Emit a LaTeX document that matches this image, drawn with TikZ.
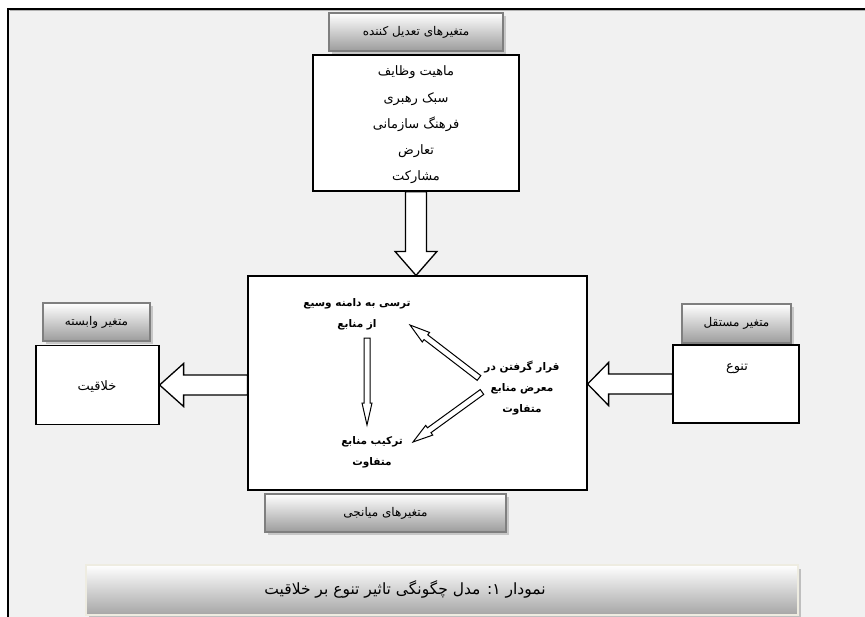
\documentclass[tikz,border=0pt]{standalone}
\usepackage{fontspec}
\usetikzlibrary{calc,shadows}
\newfontfamily\arabicfont[Script=Arabic]{DejaVu Sans}
\TeXXeTstate=1
\definecolor{bgc}{HTML}{F1F1F1}
\definecolor{lblborder}{HTML}{7F7F7F}
\definecolor{lblbottom}{HTML}{9C9C9C}
\definecolor{capborder}{HTML}{EEECE1}
\newcommand\rtl[1]{\beginR #1\endR}
% #1 style, #2 from, #3 to, #4 shaft half width, #5 head half width, #6 head length
\newcommand\hollowarrow[6]{%
  \draw[#1] let \p1=($(#3)-(#2)$), \n1={atan2(\y1,\x1)}, \n2={veclen(\x1,\y1)} in
    [shift={(#2)}, rotate=\n1]
    (0,-#4) -- (\n2-#6,-#4) -- (\n2-#6,-#5) -- (\n2,0) -- (\n2-#6,#5) -- (\n2-#6,#4) -- (0,#4) -- cycle;}
\begin{document}
\begin{tikzpicture}[x=1pt,y=-1pt,
  lbl/.style={draw=lblborder, line width=1.6pt, top color=white, bottom color=lblbottom,
    inner sep=0pt, drop shadow={shadow xshift=3pt, shadow yshift=-3pt, fill=black!22, opacity=1},
    font=\arabicfont\fontsize{12}{14}\selectfont},
  box/.style={draw=black, line width=1.2pt, fill=white, inner sep=0pt},
  txt/.style={font=\arabicfont\fontsize{13}{26.3}\selectfont, align=center, inner sep=0pt},
  btxt/.style={font=\arabicfont\bfseries\fontsize{10.5}{21}\selectfont, align=center, inner sep=0pt},
  bigarrow/.style={draw=black, line width=1.3pt, fill=white, line join=miter},
  thinarrow/.style={draw=black, line width=1pt, fill=white, line join=miter}]
\useasboundingbox (0,0) rectangle (865,616);
\clip (0,0) rectangle (865,616);
% frame
\fill[white] (0,0) rectangle (865,616);
\filldraw[fill=bgc, draw=black, line width=1.6pt] (8,9) rectangle (900,650);
\draw[gray!60, line width=0.8pt] (9.6,10.6) -- (900,10.6);
% moderator
\node[lbl, minimum width=174pt, minimum height=38pt] (modlabel) at (416,32) {\rtl{متغیرهای تعدیل کننده}};
\node[box, minimum width=206pt, minimum height=136pt] (modbox) at (416,123) {};
\node[txt] (modtxt) at (416,125) {\rtl{ماهیت وظایف}\\\rtl{سبک رهبری}\\\rtl{فرهنگ سازمانی}\\\rtl{تعارض}\\\rtl{مشارکت}};
% central
\node[box, minimum width=339pt, minimum height=214pt] (mid) at (417.5,383) {};
\node[lbl, minimum width=241pt, minimum height=38pt] (medlabel) at (385.5,513) {\rtl{متغیرهای میانجی}};
% dependent
\node[lbl, minimum width=107pt, minimum height=38pt] (deplabel) at (96.5,322) {\rtl{متغیر وابسته}};
\node[box, minimum width=123pt, minimum height=79pt] (depbox) at (97.5,385) {};
\node[txt] (deptxt) at (97,387) {\rtl{خلاقیت}};
% independent
\node[lbl, minimum width=109pt, minimum height=39pt] (indlabel) at (736.5,323.5) {\rtl{متغیر مستقل}};
\node[box, minimum width=126pt, minimum height=78pt] (indbox) at (736,384) {};
\node[txt] (indtxt) at (737,369) {\rtl{تنوع}};
% block arrows
\hollowarrow{bigarrow}{modbox.south}{modbox.south |- mid.north}{10.5}{21}{24}
\coordinate (lstart) at (depbox.east -| mid.west);
\hollowarrow{bigarrow}{lstart}{depbox.east}{10}{21.5}{24}
\coordinate (rend) at (indbox.west -| mid.east);
\hollowarrow{bigarrow}{indbox.west}{rend}{10}{21.5}{21}
% inner texts
\node[btxt] (t1) at (357,314) {\rtl{ترسی به دامنه وسیع}\\\rtl{از منابع}};
\node[btxt] (t2) at (372,452) {\rtl{ترکیب منابع}\\\rtl{متفاوت}};
\node[btxt] (t3) at (522,388) {\rtl{قرار گرفتن در}\\\rtl{معرض منابع}\\\rtl{متفاوت}};
\coordinate (a1s) at (367,338);
\coordinate (a1e) at (367,425);
\coordinate (a2s) at (479,378);
\coordinate (a2e) at (410,325);
\coordinate (a3s) at (482,392);
\coordinate (a3e) at (413,442);
\hollowarrow{thinarrow}{a1s}{a1e}{3}{5}{22}
\hollowarrow{thinarrow}{a2s}{a2e}{3}{6}{20}
\hollowarrow{thinarrow}{a3s}{a3e}{3}{6}{20}
% caption
\node[draw=capborder, line width=2pt, top color=white, bottom color=black!35, inner sep=0pt,
  minimum width=712pt, minimum height=50pt,
  drop shadow={shadow xshift=3pt, shadow yshift=-4pt, fill=black!25, opacity=1}] (caption) at (442,590) {};
\node[font=\arabicfont\fontsize{15.5}{18}\selectfont, inner sep=0pt] (captxt) at (405,589) {\rtl{نمودار ۱: مدل چگونگی تاثیر تنوع بر خلاقیت}};
\end{tikzpicture}
\end{document}
